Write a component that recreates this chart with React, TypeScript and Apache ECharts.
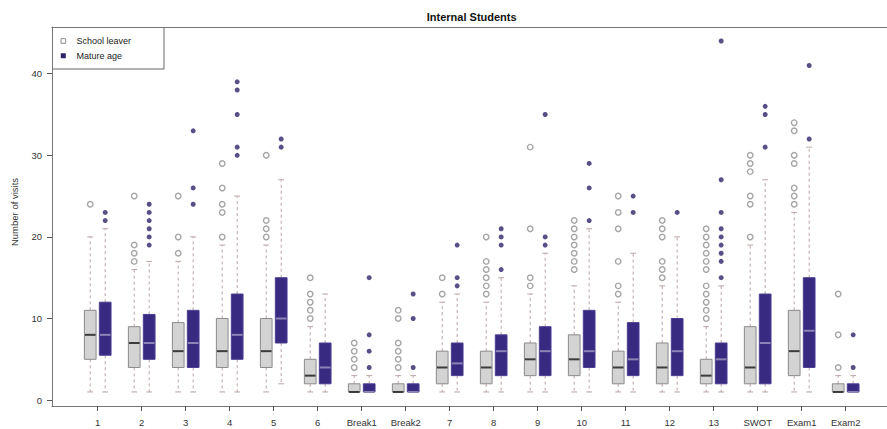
import { useEffect, useRef } from "react";
import * as echarts from "echarts";

// Session labels along the x axis
const categories = [
  "1", "2", "3", "4", "5", "6", "Break1", "Break2",
  "7", "8", "9", "10", "11", "12", "13", "SWOT", "Exam1", "Exam2",
];

// Box statistics per session: [lower whisker, Q1, median, Q3, upper whisker]
const schoolLeaverStats = [
  [1, 5, 8, 11, 20],
  [1, 4, 7, 9, 16],
  [1, 4, 6, 9.5, 17],
  [1, 4, 6, 10, 19],
  [1, 4, 6, 10, 19],
  [1, 2, 3, 5, 9],
  [1, 1, 1, 2, 3],
  [1, 1, 1, 2, 3],
  [1, 2, 4, 6, 12],
  [1, 2, 4, 6, 12],
  [1, 3, 5, 7, 13],
  [1, 3, 5, 8, 14],
  [1, 2, 4, 6, 12],
  [1, 2, 4, 7, 14],
  [1, 2, 3, 5, 9],
  [1, 2, 4, 9, 19],
  [1, 3, 6, 11, 23],
  [1, 1, 1, 2, 3],
];

const matureAgeStats = [
  [1, 5.5, 8, 12, 21],
  [1, 5, 7, 10.5, 17],
  [1, 4, 7, 11, 20],
  [1, 5, 8, 13, 25],
  [2, 7, 10, 15, 27],
  [1, 2, 4, 7, 13],
  [1, 1, 1, 2, 3],
  [1, 1, 1, 2, 3],
  [1, 3, 4.5, 7, 13],
  [1, 3, 6, 8, 15],
  [1, 3, 6, 9, 18],
  [1, 4, 6, 11, 21],
  [1, 3, 5, 9.5, 18],
  [1, 3, 6, 10, 20],
  [1, 2, 5, 7, 14],
  [1, 2, 7, 13, 27],
  [1, 4, 8.5, 15, 31],
  [1, 1, 1, 2, 3],
];

// Outlying visit counts per session
const schoolLeaverOutliers = [
  [24],
  [17, 18, 19, 25],
  [18, 20, 25],
  [20, 23, 24, 26, 29],
  [20, 21, 22, 30],
  [10, 11, 12, 13, 15],
  [4, 5, 6, 7],
  [4, 5, 6, 7, 10, 11],
  [13, 15],
  [13, 14, 15, 16, 17, 20],
  [14, 15, 21, 31],
  [16, 17, 18, 19, 20, 21, 22],
  [13, 14, 17, 21, 23, 25],
  [15, 16, 17, 20, 21, 22],
  [10, 11, 12, 13, 14, 16, 17, 18, 19, 20, 21],
  [20, 24, 25, 28, 29, 30],
  [24, 25, 26, 29, 30, 33, 34],
  [4, 8, 13],
];

const matureAgeOutliers = [
  [22, 23],
  [19, 20, 21, 22, 23, 24],
  [24, 26, 33],
  [30, 31, 35, 38, 39],
  [31, 32],
  [],
  [4, 6, 8, 15],
  [4, 10, 13],
  [14, 15, 19],
  [16, 19, 20, 21],
  [19, 20, 35],
  [22, 26, 29],
  [23, 25],
  [23],
  [15, 17, 18, 19, 20, 21, 23, 27, 44],
  [31, 35, 36],
  [32, 41],
  [4, 8],
];

const yTicks = [0, 10, 20, 30, 40];

const FONT = "'Liberation Sans', Arial, Helvetica, sans-serif";
const PAIR_OFFSET = 0.17;
const BOX_WIDTH = 0.266;
const WHISKER_COLOR = "#bca4a4";
const FRAME_COLOR = "#777777";

const GREY_FILL = "#d3d3d3";
const GREY_BORDER = "#8a8a8a";
const GREY_MEDIAN = "#3c3c3c";
const NAVY_FILL = "#372a80";
const NAVY_BORDER = "#4b3f93";
const NAVY_MEDIAN = "#8b84b4";
const NAVY_POINT = "#2c2468";

function boxRenderer(offset: number, fill: string, border: string, median: string) {
  return (_params: any, api: any) => {
    const g = api.value(0) as number;
    const lo = api.value(1) as number;
    const q1 = api.value(2) as number;
    const med = api.value(3) as number;
    const q3 = api.value(4) as number;
    const hi = api.value(5) as number;
    const cx = g + offset;
    const w = api.size([BOX_WIDTH, 0])[0];
    const capW = w * 0.5;
    const x = api.coord([cx, med])[0];
    const yLo = api.coord([cx, lo])[1];
    const yQ1 = api.coord([cx, q1])[1];
    const yMed = api.coord([cx, med])[1];
    const yQ3 = api.coord([cx, q3])[1];
    const yHi = api.coord([cx, hi])[1];
    const dashed = { stroke: WHISKER_COLOR, lineWidth: 1, lineDash: [3, 3] };
    const solid = { stroke: WHISKER_COLOR, lineWidth: 1 };
    const children: any[] = [];
    if (hi > q3) {
      children.push({ type: "line", shape: { x1: x, y1: yQ3, x2: x, y2: yHi }, style: dashed });
    }
    if (lo < q1) {
      children.push({ type: "line", shape: { x1: x, y1: yQ1, x2: x, y2: yLo }, style: dashed });
    }
    children.push({ type: "line", shape: { x1: x - capW / 2, y1: yHi, x2: x + capW / 2, y2: yHi }, style: solid });
    children.push({ type: "line", shape: { x1: x - capW / 2, y1: yLo, x2: x + capW / 2, y2: yLo }, style: solid });
    children.push({
      type: "rect",
      shape: { x: x - w / 2, y: yQ3, width: w, height: yQ1 - yQ3 },
      style: { fill, stroke: border, lineWidth: 1 },
    });
    children.push({
      type: "line",
      shape: { x1: x - w / 2 + 0.5, y1: yMed, x2: x + w / 2 - 0.5, y2: yMed },
      style: { stroke: median, lineWidth: 2 },
    });
    return { type: "group", children };
  };
}

const boxData = (stats: number[][]) => stats.map((s, i) => [i, ...s]);
const outlierData = (lists: number[][], offset: number) =>
  lists.flatMap((vals, i) => vals.map((v) => [i + offset, v]));

export default function App() {
  const ref = useRef<HTMLDivElement>(null);

  useEffect(() => {
    if (!ref.current) return;
    const chart = echarts.init(ref.current, undefined, { renderer: "svg" });
    const idx = categories.map((_, i) => i);
    const X_MIN = -1.039;
    const X_MAX = 18.039;

    chart.setOption({
      animation: false,
      backgroundColor: "#ffffff",
      textStyle: { fontFamily: FONT },
      grid: {
        left: 52,
        top: 27,
        width: 839.4,
        height: 379,
        show: false,
        outerBoundsMode: "none",
        containLabel: false,
      },
      xAxis: [
        {
          type: "value",
          position: "bottom",
          min: X_MIN,
          max: X_MAX,
          splitLine: { show: false },
          axisLine: { show: true, onZero: false, lineStyle: { color: FRAME_COLOR, width: 1 } },
          axisTick: { show: true, customValues: idx, length: 5, lineStyle: { color: "#555555" } },
          axisLabel: {
            customValues: idx,
            formatter: (v: number) => categories[Math.round(v)] ?? "",
            margin: 11,
            fontSize: 9.5,
            color: "#333333",
            fontFamily: FONT,
          },
        },
        {
          type: "value",
          position: "top",
          min: X_MIN,
          max: X_MAX,
          splitLine: { show: false },
          axisLine: { show: true, onZero: false, lineStyle: { color: FRAME_COLOR, width: 1 } },
          axisTick: { show: false },
          axisLabel: { show: false },
        },
      ],
      yAxis: {
        type: "value",
        min: -0.72,
        max: 45.72,
        splitLine: { show: false },
        axisLine: { show: true, onZero: false, lineStyle: { color: FRAME_COLOR, width: 1 } },
        axisTick: { show: true, customValues: yTicks, length: 5, lineStyle: { color: "#555555" } },
        axisLabel: {
          customValues: yTicks,
          margin: 10,
          fontSize: 9.5,
          color: "#333333",
          fontFamily: FONT,
        },
      },
      series: [
        {
          name: "School leaver",
          type: "custom",
          renderItem: boxRenderer(-PAIR_OFFSET, GREY_FILL, GREY_BORDER, GREY_MEDIAN),
          encode: { x: 0, y: [1, 2, 3, 4, 5] },
          data: boxData(schoolLeaverStats),
          z: 2,
        },
        {
          name: "Mature age",
          type: "custom",
          renderItem: boxRenderer(PAIR_OFFSET, NAVY_FILL, NAVY_BORDER, NAVY_MEDIAN),
          encode: { x: 0, y: [1, 2, 3, 4, 5] },
          data: boxData(matureAgeStats),
          z: 2,
        },
        {
          name: "School leaver outliers",
          type: "scatter",
          symbol: "circle",
          symbolSize: 5.5,
          itemStyle: { color: "#ffffff", borderColor: "#8e8e8e", borderWidth: 1.4 },
          data: outlierData(schoolLeaverOutliers, -PAIR_OFFSET),
          z: 3,
        },
        {
          name: "Mature age outliers",
          type: "scatter",
          symbol: "circle",
          symbolSize: 5,
          itemStyle: { color: NAVY_POINT },
          data: outlierData(matureAgeOutliers, PAIR_OFFSET),
          z: 3,
        },
      ],
      graphic: [
        {
          type: "text",
          x: 471.7,
          y: 17,
          style: {
            text: "Internal Students",
            fontFamily: FONT,
            fontSize: 11,
            fontWeight: "bold",
            align: "center",
            verticalAlign: "middle",
            fill: "#111111",
          },
        },
        {
          type: "text",
          x: 14,
          y: 212,
          rotation: Math.PI / 2,
          style: {
            text: "Number of visits",
            fontFamily: FONT,
            fontSize: 9.5,
            align: "center",
            verticalAlign: "middle",
            fill: "#333333",
          },
        },
        {
          type: "group",
          z: 10,
          children: [
            {
              type: "rect",
              shape: { x: 52.5, y: 27.5, width: 111.5, height: 41.5 },
              style: { fill: "#ffffff", stroke: "#666666", lineWidth: 1 },
            },
            {
              type: "rect",
              shape: { x: 61, y: 38.7, width: 4.6, height: 4.6 },
              style: { fill: "#ffffff", stroke: "#8e8e8e", lineWidth: 1 },
            },
            {
              type: "rect",
              shape: { x: 60.8, y: 53.2, width: 5, height: 5 },
              style: { fill: NAVY_POINT },
            },
            {
              type: "text",
              x: 76.5,
              y: 41,
              style: {
                text: "School leaver",
                fontFamily: FONT,
                fontSize: 9,
                verticalAlign: "middle",
                fill: "#222222",
              },
            },
            {
              type: "text",
              x: 76.5,
              y: 55.7,
              style: {
                text: "Mature age",
                fontFamily: FONT,
                fontSize: 9,
                verticalAlign: "middle",
                fill: "#222222",
              },
            },
          ],
        },
      ],
    });

    return () => chart.dispose();
  }, []);

  return (
    <div
      ref={ref}
      style={{ position: "fixed", left: 0, top: 0, width: 887, height: 429, background: "#ffffff" }}
    />
  );
}
